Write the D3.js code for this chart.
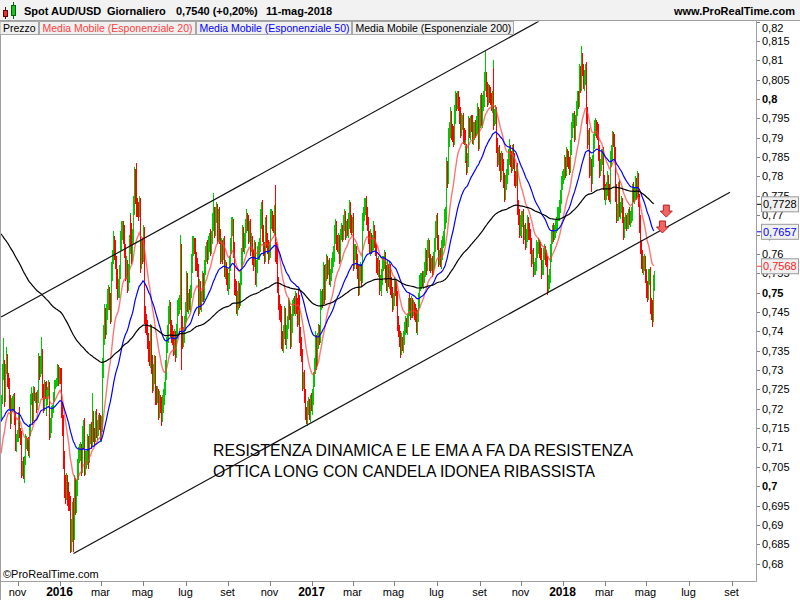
<!DOCTYPE html>
<html><head><meta charset="utf-8">
<script src="https://cdn.jsdelivr.net/npm/d3@7"></script>
<style>body{margin:0;background:#fff}svg{display:block;font-family:"Liberation Sans",Arial,sans-serif}</style>
</head><body><svg id="c" width="800" height="600"></svg>
<script>
// ---------- DATA (daily AUD/USD, values in 1/10000) ----------
const startDate = "2015-10-08";
const firstOpen = 7190;
const close2015 = [
 7225,7290,7305,7235,7300,7330,7275,7265,7225,7170,7205,7215,7225,7170,7110,7125,7130,
 7160,7180,7135,7125,7045,7055,7030,7065,7110,7115,7110,7090,7140,7225,7230,7180,7240,7230,7230,7210,7230,
 7315,7300,7310,7335,7250,7210,7255,7250,7200,7230,7245,7255,7145,7150,7190,7200,7230,7260,7265,7270,7300,7280,7290];
const close2016 = [
 7285,7200,7160,7070,7000,6990,7010,6980,6960,6955,6860,6880,6930,6880,6935,7000,6950,6990,7040,7080,7085,
 7090,7050,7125,7150,7050,7070,7075,7110,7075,7130,7145,7120,7175,7135,7130,7175,7145,7150,7170,7160,7140,
 7160,7230,7300,7390,7440,7410,7445,7480,7500,7475,7450,7550,7590,7625,7610,7580,7540,7505,7510,7550,7630,7660,7665,
 7650,7610,7560,7565,7520,7550,7620,7680,7650,7600,7640,7720,7800,7760,7720,7715,7710,7720,7580,7615,7600,
 7650,7450,7420,7410,7380,7350,7330,7400,7320,7265,7290,7320,7240,7230,7235,7230,7190,7220,7210,7180,7210,7230,
 7250,7300,7365,7385,7440,7460,7410,7390,7380,7360,7380,7350,7395,7460,7470,7475,7600,7420,7380,7385,7420,7450,
 7480,7530,7470,7485,7470,7500,7570,7620,7625,7620,7580,7570,7560,7465,7510,7470,7490,7530,7500,7560,7600,
 7605,7600,7625,7640,7620,7640,7680,7700,7690,7660,7700,7710,7650,7700,7640,7600,7620,7600,7620,7560,7565,7540,7520,
 7530,7570,7620,7670,7675,7610,7520,7510,7460,7480,7510,7480,7540,7590,7600,7650,7620,7640,7670,7690,7680,7650,
 7670,7620,7630,7590,7580,7610,7540,7570,7600,7605,7620,7690,7720,7650,7610,7600,7680,7630,7620,7600,7610,
 7640,7690,7695,7680,7670,7700,7610,7600,7520,7480,7450,7440,7380,7370,7400,7440,7380,7400,7420,7460,7450,7380,
 7420,7460,7470,7460,7480,7470,7430,7490,7480,7390,7360,7340,7270,7275,7230,7190,7180,7200,7205,7190,7220,7210];
const close2017 = [
 7230,7270,7310,7370,7330,7370,7400,7390,7480,7485,7480,7550,7500,7520,7550,7580,7560,7565,7540,7545,7570,7580,
 7600,7650,7670,7630,7620,7630,7600,7650,7660,7650,7680,7690,7660,7670,7660,7680,7720,7680,7670,7680,
 7685,7580,7600,7605,7580,7560,7510,7550,7560,7540,7680,7700,7720,7730,7700,7680,7640,7620,7640,7620,7630,7660,7640,
 7610,7570,7560,7570,7520,7525,7510,7540,7570,7580,7590,7550,7520,7560,7530,7560,7520,7500,7470,7480,
 7520,7510,7490,7420,7400,7380,7360,7370,7365,7380,7410,7420,7410,7425,7460,7480,7470,7450,7470,7455,7460,7450,7440,
 7410,7440,7480,7520,7530,7535,7530,7540,7560,7590,7570,7610,7620,7580,7570,7575,7560,7580,7620,7660,7680,7690,
 7630,7590,7595,7580,7610,7630,7640,7690,7700,7820,7800,7900,7920,7950,7920,7910,7900,7960,8000,7990,8000,
 7990,7960,7920,7940,7945,7910,7900,7860,7870,7830,7840,7930,7920,7940,7935,7900,7920,7925,7920,7930,7960,7890,7950,
 7990,7950,7990,7995,8040,8050,8030,8000,8020,8010,8000,7990,7995,8060,7950,7960,7965,7880,7850,7860,7840,
 7810,7840,7830,7790,7760,7780,7800,7820,7850,7860,7850,7830,7860,7840,7800,7790,7810,7720,7700,7660,7680,7660,
 7690,7695,7650,7660,7630,7650,7680,7660,7650,7620,7590,7595,7560,7565,7570,7610,7615,7620,7610,7600,7560,7565,
 7600,7605,7590,7580,7520,7525,7530,7540,7600,7640,7660,7650,7660,7670,7680,7700,7705,7720,7750,7780,7800];
const close2018 = [
 7805,7835,7815,7855,7845,7835,7825,7875,7915,7945,7950,7915,7945,7975,7995,8000,7995,8065,8040,8100,8075,8045,8055,
 8070,7960,7900,7905,7820,7825,7800,7840,7890,7920,7930,7920,7910,7860,7820,7830,7850,7855,7790,7760,
 7750,7760,7765,7790,7760,7750,7840,7860,7900,7890,7860,7760,7700,7705,7770,7710,7720,7730,7700,7660,7680,7685,
 7680,7685,7700,7690,7695,7700,7760,7765,7750,7755,7780,7760,7790,7740,7680,7620,7590,7575,7580,7580,7545,
 7510,7495,7540,7545,7470,7460,7440,7525,7540];
// wick beyond the body, in pips (up / down)
const upWick2015 = [
 10,25,77,20,15,30,12,18,15,10,22,18,12,15,20,10,14,
 20,12,25,15,18,10,20,12,25,15,10,18,20,12,25,10,20,15,10,12,18,
 30,20,25,50,18,15,20,15,22,18,12,20,15,25,18,10,12,15,8,10,15,12,18];
const downWick2015 = [
 20,12,15,30,18,10,20,15,25,22,10,14,20,12,18,22,10,
 15,20,10,18,25,20,12,22,10,15,20,12,18,10,15,22,12,10,15,20,12,
 15,25,18,20,22,20,15,25,18,15,20,12,25,20,12,15,10,12,8,10,12,20,15];
const upWick2016 = [
 15,20,18,25,20,30,25,20,30,25,20,35,30,40,25,30,20,25,30,20,25,
 25,20,30,20,25,20,15,25,20,30,15,20,65,20,15,20,25,20,15,20,25,
 20,25,30,25,30,20,25,30,20,15,25,30,20,35,20,25,15,20,25,20,30,25,20,
 20,25,15,30,20,25,30,25,20,30,25,30,25,20,75,25,20,30,25,20,25,
 25,20,15,25,20,15,25,20,15,20,25,20,15,20,25,15,20,25,15,20,25,20,
 20,25,20,30,25,20,15,20,25,20,25,20,25,20,15,20,50,25,20,25,20,25,
 20,25,20,15,25,20,30,25,20,15,20,25,20,15,25,20,15,25,20,25,20,
 25,30,20,15,25,20,25,58,20,15,20,25,20,15,20,25,20,15,20,25,20,15,20,
 20,25,20,25,20,15,20,15,20,25,20,15,20,25,20,25,20,15,20,25,15,20,
 15,20,25,15,20,25,20,15,20,25,20,25,15,20,25,20,15,20,25,15,20,
 20,25,20,15,20,25,78,20,25,20,15,20,25,20,15,25,20,15,20,25,20,15,
 25,20,15,20,25,20,15,25,20,15,20,25,15,20,25,20,15,20,25,20,15,20];
const downWick2016 = [
 20,25,30,25,30,35,25,30,25,20,33,30,25,50,20,15,25,20,15,25,20,
 20,25,15,30,25,20,25,20,30,15,20,25,15,20,25,15,20,25,20,15,20,
 25,20,15,20,25,30,20,15,25,20,30,25,20,15,25,20,30,25,20,25,15,20,25,
 25,20,30,25,20,15,25,20,30,25,20,15,20,30,25,20,25,15,30,20,25,
 20,30,25,20,25,30,20,25,30,25,20,25,30,20,15,25,20,15,20,25,15,20,
 20,15,25,20,15,20,25,20,15,25,20,30,20,15,20,25,20,120,25,20,15,20,
 25,15,20,25,15,20,15,20,25,20,25,15,20,25,20,15,20,15,25,20,15,
 20,25,15,20,25,20,15,20,25,20,15,20,25,20,15,25,20,25,15,20,25,20,15,
 25,20,15,20,25,20,25,20,15,20,25,20,15,20,25,20,15,20,25,15,20,25,
 20,25,15,20,25,15,20,25,20,15,20,15,25,20,15,25,20,15,20,25,15,
 20,15,25,20,15,20,30,25,20,25,20,15,25,20,25,20,15,25,20,15,20,25,
 20,25,20,15,20,25,20,15,25,20,25,20,25,20,15,20,20,25,15,20,25,15];
const upWick2017 = [
 20,25,20,30,20,25,20,15,30,20,25,30,20,15,25,20,15,20,25,15,20,25,
 20,25,20,15,20,25,20,15,20,15,20,25,20,15,20,25,20,15,20,15,
 15,20,25,20,15,20,15,25,20,15,25,20,25,15,19,20,15,20,25,15,20,25,15,
 20,15,20,25,15,20,15,20,25,15,20,15,20,25,15,20,15,20,15,20,
 20,15,20,15,20,15,20,25,15,20,15,20,15,20,25,15,20,15,20,15,20,15,20,
 20,15,20,25,20,15,20,15,20,25,20,25,20,15,20,15,20,25,20,25,20,15,
 15,20,15,20,25,15,20,25,20,30,20,25,20,30,20,15,20,25,20,15,20,
 20,15,20,25,15,20,15,20,25,15,20,25,20,15,20,25,20,15,20,25,30,20,25,
 20,25,20,25,30,75,20,15,20,15,20,15,25,40,20,15,20,15,20,15,20,
 20,25,20,15,20,25,20,25,20,37,20,15,20,25,20,15,20,25,20,15,20,25,
 20,15,20,15,20,15,20,15,20,15,20,15,20,15,20,25,15,20,15,20,15,20,
 15,20,15,20,15,20,15,20,25,20,15,20,15,20,15,20,15,20,15,20,15];
const downWick2017 = [
 25,20,15,20,30,20,15,25,20,25,20,15,30,20,15,20,25,15,20,25,15,20,
 15,20,25,20,15,20,25,20,15,20,15,20,25,20,15,20,15,25,20,15,
 20,25,20,15,20,25,20,15,20,25,15,20,15,20,25,20,15,20,25,20,15,20,25,
 15,20,15,20,25,15,20,15,20,15,20,25,15,20,15,20,25,15,20,15,
 15,20,25,20,15,20,30,20,15,20,15,20,15,20,15,20,15,20,15,20,15,20,15,
 15,20,15,20,15,20,15,20,15,20,25,15,20,25,20,15,20,15,20,15,20,25,
 20,25,20,15,20,25,15,20,25,20,30,20,25,20,25,20,25,20,25,20,15,
 20,25,20,15,20,25,20,25,20,25,20,15,20,25,20,15,20,25,20,15,20,25,20,
 25,20,25,20,15,20,25,20,15,20,15,20,25,20,30,20,25,20,25,20,25,
 25,20,15,20,27,20,15,20,15,20,25,20,15,20,25,20,15,20,25,20,15,20,
 15,20,25,15,20,15,20,25,15,20,25,15,20,15,20,15,20,15,20,15,25,15,
 20,15,20,15,25,20,15,20,15,20,15,20,15,20,15,20,15,20,15,20,15];
const upWick2018 = [
 15,20,15,20,15,20,15,20,25,20,15,20,15,20,25,15,20,25,20,36,20,15,20,
 20,25,20,15,20,25,20,15,20,25,20,15,20,25,20,15,20,15,20,15,
 20,15,20,25,15,20,25,20,17,15,20,15,20,25,15,20,15,20,15,20,15,20,
 15,20,15,20,15,20,20,15,20,15,20,15,23,20,15,20,15,20,15,20,15,
 15,20,20,15,20,15,20,20,15];
const downWick2018 = [
 20,15,20,15,20,15,20,15,20,15,20,25,20,15,20,15,20,15,25,20,15,20,25,
 20,25,30,20,25,20,40,20,15,20,15,20,15,20,25,20,15,20,25,20,
 20,25,20,15,20,15,20,15,20,15,20,25,20,15,20,15,20,15,20,25,20,15,
 20,15,20,15,20,15,15,20,15,20,15,20,15,20,25,20,30,25,30,25,20,
 25,20,15,20,25,30,29,15,20];
// EMA settings and the values they carried into the first visible bar
const emaPeriods = [20, 50, 200];
const emaSeeds = [0.7070, 0.7165, 0.7656];
// last-value labels shown on the price scale (EMA 20, 50, 200)
const lastValueLabels = [0.7568, 0.7657, 0.7728];
// y axis ticks
const yTickValues = [0.68,0.685,0.69,0.695,0.70,0.705,0.71,0.715,0.72,0.725,0.73,0.735,0.74,0.745,0.75,0.755,0.76,0.765,0.77,0.775,0.78,0.785,0.79,0.795,0.80,0.805,0.81,0.815,0.82];
const yBoldTicks = [0.70, 0.75, 0.80];
// x axis ticks
const xTickMonths = ["2015-11","2016-01","2016-03","2016-05","2016-07","2016-09","2016-11","2017-01","2017-03","2017-05","2017-07","2017-09","2017-11","2018-01","2018-03","2018-05","2018-07","2018-09"];
const xTickLabels = ["nov","2016","mar","mag","lug","set","nov","2017","mar","mag","lug","set","nov","2018","mar","mag","lug","set"];
const itMonths = ["gen","feb","mar","apr","mag","giu","lug","ago","set","ott","nov","dic"];
// channel trend lines (bar index, price)
const channelUpper = [{i: 0, v: 0.7437}, {i: 557, v: 0.8201}];
const channelLower = [{i: 75, v: 0.6826}, {i: 755, v: 0.7759}];
// signal arrows (tip position)
const arrowMarks = [{i: 689, v: 0.7695}, {i: 685, v: 0.7654}];
const noteLines = ["RESISTENZA DINAMICA E LE EMA A FA DA RESISTENZA", "OTTICA LONG CON CANDELA IDONEA RIBASSISTA"];

// ---------- BUILD ----------
const closes = [...close2015, ...close2016, ...close2017, ...close2018].map(v => v / 10000);
const ups = [...upWick2015, ...upWick2016, ...upWick2017, ...upWick2018];
const downs = [...downWick2015, ...downWick2016, ...downWick2017, ...downWick2018];
const bars = closes.map((c, i) => {
  const o = i ? closes[i - 1] : firstOpen / 10000;
  return {i, o, c, h: Math.max(o, c) + (ups[i] || 0) / 10000, l: Math.min(o, c) - (downs[i] || 0) / 10000};
});
const emas = emaPeriods.map((p, k) => {
  const a = 2 / (p + 1); let e = emaSeeds[k];
  return closes.map((c, i) => { e = e + a * (c - e); return {i, v: e}; });
});
const parse = d3.utcParse("%Y-%m-%d");
const days = [];
for (let d = parse(startDate); days.length < 800; d = d3.utcDay.offset(d, 1)) {
  const wd = d.getUTCDay(); if (wd !== 0 && wd !== 6) days.push(d);
}

// ---------- DRAW ----------
const svg = d3.select("#c");
const PL = 0, PR = 756, PT = 21.6, PB = 581;
const x = d3.scaleLinear().domain([0, 782]).range([1.1, 756.1]);
const y = d3.scaleLinear().domain([0.6755, 0.82]).range([PB, PT]);
const GREEN = "#00c800", RED = "#ff0000";
const EMA_COL = ["#ff3c3c", "#0000ff", "#000000"];

svg.append("rect").attr("width", 800).attr("height", 600).attr("fill", "#fff");
svg.append("clipPath").attr("id", "pc").append("rect").attr("x", PL).attr("y", PT).attr("width", PR - PL).attr("height", PB - PT);
const g = svg.append("g").attr("clip-path", "url(#pc)");

g.append("g").selectAll("rect").data(bars).join("rect")
  .attr("x", d => Math.round(x(d.i))).attr("width", 1)
  .attr("y", d => y(d.h)).attr("height", d => Math.max(1, y(d.l) - y(d.h)))
  .attr("fill", d => d.c >= d.o ? GREEN : RED).attr("shape-rendering", "crispEdges");

const line = d3.line().x(d => x(d.i)).y(d => y(d.v));
emas.forEach((e, k) => {
  g.append("path").datum(e).attr("d", line).attr("fill", "none")
    .attr("stroke", EMA_COL[k]).attr("stroke-width", k === 0 ? 1.4 : 1.2)
    .attr("stroke-opacity", k === 0 ? 0.7 : 1);
});

// annotation
g.append("g").selectAll("text").data(noteLines).join("text")
  .attr("x", 213).attr("y", (d, k) => 456 + k * 21)
  .attr("font-size", 17).attr("fill", "#000")
  .attr("textLength", (d, k) => k ? 382 : 420).attr("lengthAdjust", "spacingAndGlyphs").text(d => d);

[channelUpper, channelLower].forEach(c => {
  g.append("path").datum(c).attr("d", line).attr("fill", "none").attr("stroke", "#111").attr("stroke-width", 1.2);
});

// arrows
g.append("g").selectAll("path").data(arrowMarks).join("path")
  .attr("transform", d => `translate(${x(d.i)},${y(d.v)})`)
  .attr("d", "M0,0L-6,-6L-3,-6L-3,-12L3,-12L3,-6L6,-6Z")
  .attr("fill", "#f06464").attr("stroke", "#b82020").attr("stroke-width", 1);

// frame / axes
svg.append("line").attr("x1", 0.5).attr("x2", 0.5).attr("y1", 21).attr("y2", 600).attr("stroke", "#a0a0a0");
svg.append("line").attr("x1", PR + 0.5).attr("x2", PR + 0.5).attr("y1", 21).attr("y2", PB + 0.5).attr("stroke", "#a0a0a0");
svg.append("line").attr("x1", 0).attr("x2", PR + 0.5).attr("y1", PB + 0.5).attr("y2", PB + 0.5).attr("stroke", "#a0a0a0");

const fmtTick = v => String(+v.toFixed(3)).replace(".", ",");
const yt = svg.append("g");
yTickValues.forEach(v => {
  const yy = Math.max(y(v), 27.5);
  yt.append("line").attr("x1", PR + 1).attr("x2", PR + 4).attr("y1", Math.round(y(v)) + 0.5).attr("y2", Math.round(y(v)) + 0.5).attr("stroke", "#808080");
  yt.append("text").attr("x", 762).attr("y", yy + 4).attr("font-size", 11)
    .attr("font-weight", yBoldTicks.some(b => Math.abs(b - v) < 1e-6) ? "bold" : "normal").attr("fill", "#000").text(fmtTick(v));
});

// last value boxes
const fmt4 = v => v.toFixed(4).replace(".", ",");
[2, 1, 0].forEach(k => {
  const v = lastValueLabels[k], yy = y(v);
  svg.append("line").attr("x1", PR + 1).attr("x2", PR + 5).attr("y1", yy).attr("y2", yy).attr("stroke", EMA_COL[k]);
  svg.append("rect").attr("x", 761.5).attr("y", yy - 7.5).attr("width", 37).attr("height", 15)
    .attr("fill", "#f0f0f0").attr("stroke", "#9a9a9a");
  svg.append("text").attr("x", 763).attr("y", yy + 4).attr("font-size", 11).attr("fill", k === 0 ? "#ff2020" : EMA_COL[k]).text(fmt4(v));
});

// x axis
const xt = svg.append("g");
xTickMonths.forEach((m, k) => {
  const t = parse(m + "-01"); const idx = days.findIndex(d => d >= t); const xx = Math.round(x(idx)) + 0.5;
  xt.append("line").attr("x1", xx).attr("x2", xx).attr("y1", PB).attr("y2", PB + 5).attr("stroke", "#808080");
  const yr = /^\d{4}$/.test(xTickLabels[k]);
  xt.append("text").attr("x", xx - 1).attr("y", 596).attr("text-anchor", "middle")
    .attr("font-size", yr ? 12 : 11).attr("font-weight", yr ? "bold" : "normal").attr("fill", "#000").text(xTickLabels[k]);
});
svg.append("text").attr("x", 3).attr("y", 578).attr("font-size", 11).attr("fill", "#000").text("©ProRealTime.com");

// header
svg.append("rect").attr("x", 0).attr("y", 0).attr("width", 800).attr("height", 21).attr("fill", "#f2f2f2");
svg.append("line").attr("x1", 0).attr("x2", 800).attr("y1", 20.5).attr("y2", 20.5).attr("stroke", "#a0a0a0");
svg.append("line").attr("x1", 5.5).attr("x2", 5.5).attr("y1", 7).attr("y2", 19).attr("stroke", "#600");
svg.append("rect").attr("x", 3.5).attr("y", 10.5).attr("width", 4).attr("height", 6).attr("fill", "#e03030").attr("stroke", "#600");
svg.append("line").attr("x1", 13.5).attr("x2", 13.5).attr("y1", 2).attr("y2", 19).attr("stroke", "#060");
svg.append("rect").attr("x", 11.5).attr("y", 5.5).attr("width", 4).attr("height", 10).attr("fill", "#20c020").attr("stroke", "#060");
const last = bars[bars.length - 1], prev = bars[bars.length - 2];
const chg = (last.c - prev.c) / prev.c * 100;
const lastDay = days[bars.length - 1];
const hdr = [
  {x: 24, t: "Spot AUD/USD"},
  {x: 107, t: "Giornaliero"},
  {x: 176, t: `${fmt4(last.c)} (${chg >= 0 ? "+" : ""}${chg.toFixed(2).replace(".", ",")}%)`},
  {x: 266, t: `${lastDay.getUTCDate()}-${itMonths[lastDay.getUTCMonth()]}-${lastDay.getUTCFullYear()}`}];
svg.append("g").selectAll("text").data(hdr).join("text").attr("x", d => d.x).attr("y", 15)
  .attr("font-size", 11).attr("font-weight", "bold").attr("fill", "#000").text(d => d.t);
svg.append("text").attr("x", 795).attr("y", 15).attr("text-anchor", "end").attr("font-size", 11).attr("font-weight", "bold").text("www.ProRealTime.com");

// legend row
const leg = [
  {x: 0, w: 38.5, t: "Prezzo", c: "#000"},
  {x: 39.5, w: 156, t: "Media Mobile (Esponenziale 20)", c: "#ff4040"},
  {x: 196.5, w: 155, t: "Media Mobile (Esponenziale 50)", c: "#0000ff"},
  {x: 352.5, w: 161, t: "Media Mobile (Esponenziale 200)", c: "#000"}];
const lg = svg.append("g").selectAll("g").data(leg).join("g");
lg.append("rect").attr("x", d => d.x).attr("y", 21.5).attr("width", d => d.w).attr("height", 13)
  .attr("fill", "#f0f0f0").attr("stroke", "#a8a8a8");
lg.append("text").attr("x", d => d.x + 3).attr("y", 31.5).attr("font-size", 10.5).attr("fill", d => d.c).text(d => d.t);
</script></body></html>
